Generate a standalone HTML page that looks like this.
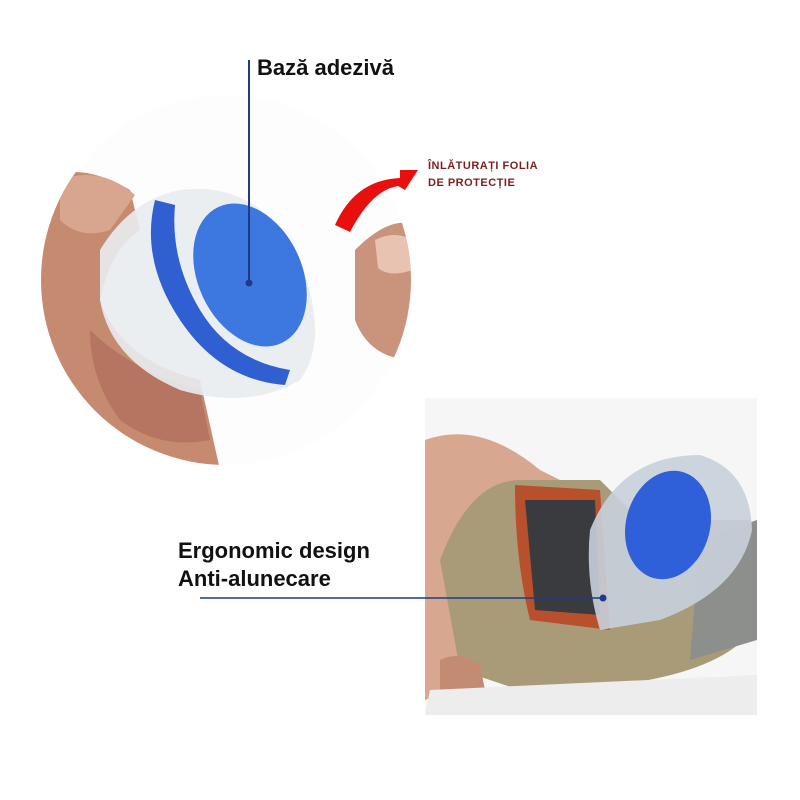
<!DOCTYPE html>
<html><head><meta charset="utf-8"><style>
html,body{margin:0;padding:0;background:#fff;width:800px;height:800px;overflow:hidden}
.t{position:absolute;font-family:"Liberation Sans",sans-serif;font-weight:bold;color:#111}
</style></head><body>
<svg width="800" height="800" style="position:absolute;left:0;top:0">
<defs>
<clipPath id="c"><circle cx="226" cy="280" r="185"/></clipPath>
<clipPath id="r"><rect x="425" y="398" width="332" height="317"/></clipPath>
</defs>
<g clip-path="url(#c)">
<rect x="0" y="0" width="450" height="500" fill="#fdfdfd"/>
<path d="M40 180 Q80 160 130 190 L140 230 Q110 250 100 300 Q120 360 200 380 L220 470 L40 470 Z" fill="#c58a70"/>
<path d="M60 180 Q100 165 135 195 L110 230 Q80 240 60 220Z" fill="#d8a58e"/>
<path d="M90 330 Q130 370 200 390 L210 440 Q160 450 120 420 Q90 380 90 330Z" fill="#b57560"/>
<path d="M100 250 Q130 200 180 190 Q260 180 300 260 Q330 340 300 380 Q250 410 180 390 Q110 360 100 300Z" fill="#e8ecef" opacity="0.9"/>
<path d="M155 200 Q140 260 180 320 Q220 380 285 385 L290 370 Q230 360 200 310 Q170 260 175 205Z" fill="#2f5fd0"/>
<ellipse cx="250" cy="275" rx="52" ry="75" transform="rotate(-25 250 275)" fill="#3d78e0"/>
<path d="M355 250 Q390 215 415 225 L415 360 Q370 360 355 320Z" fill="#c9937c"/>
<path d="M375 240 Q395 230 412 240 L412 270 Q390 278 378 268Z" fill="#e8c3b1"/>
</g>
<path d="M335 225 Q355 180 400 178 L400 170 L418 170 L405 190 L398 186 Q372 190 350 232Z" fill="#e8100e"/>
<g clip-path="url(#r)">
<rect x="425" y="398" width="332" height="317" fill="#f6f6f6"/>
<path d="M425 440 Q480 420 540 470 L560 480 L560 520 L470 560 L480 680 L425 700Z" fill="#d7a88f"/>
<path d="M440 560 Q470 480 520 480 L600 480 L640 520 L750 520 L760 620 Q720 690 520 690 L460 670Z" fill="#a99b78"/>
<path d="M515 485 L600 490 L610 630 L530 620 Q515 560 515 485Z" fill="#b8502d"/>
<path d="M525 500 L595 500 L600 615 L535 610Z" fill="#3a3b3f"/>
<path d="M700 540 L757 520 L757 640 L690 660Z" fill="#8d8f8c"/>
<path d="M590 530 Q620 455 700 455 Q750 470 752 530 Q740 590 660 620 L600 630 Q585 580 590 530Z" fill="#c8d0dc" opacity="0.9"/>
<ellipse cx="668" cy="525" rx="42" ry="55" transform="rotate(15 668 525)" fill="#2f5fd9"/>
<path d="M440 660 Q460 650 480 665 L485 690 L440 700Z" fill="#c48b73"/>
<path d="M430 690 L757 675 L757 715 L425 715Z" fill="#ededed"/>
</g>
<line x1="249" y1="60" x2="249" y2="283" stroke="#1f3a8a" stroke-width="2"/>
<circle cx="249" cy="283" r="3.5" fill="#1f3a8a"/>
<line x1="200" y1="598" x2="602" y2="598" stroke="#1f3a8a" stroke-width="1.5"/>
<circle cx="603" cy="598" r="3.5" fill="#1f3a8a"/>
</svg>
<div class="t" style="left:257px;top:55px;font-size:22px">Bază adezivă</div>
<div class="t" style="left:428px;top:158px;font-size:11px;color:#7a1f1f;line-height:17px;letter-spacing:0.5px">ÎNLĂTURAȚI FOLIA<br>DE PROTECȚIE</div>
<div class="t" style="left:178px;top:537px;font-size:22px;line-height:28px">Ergonomic design<br>Anti-alunecare</div>
</body></html>
